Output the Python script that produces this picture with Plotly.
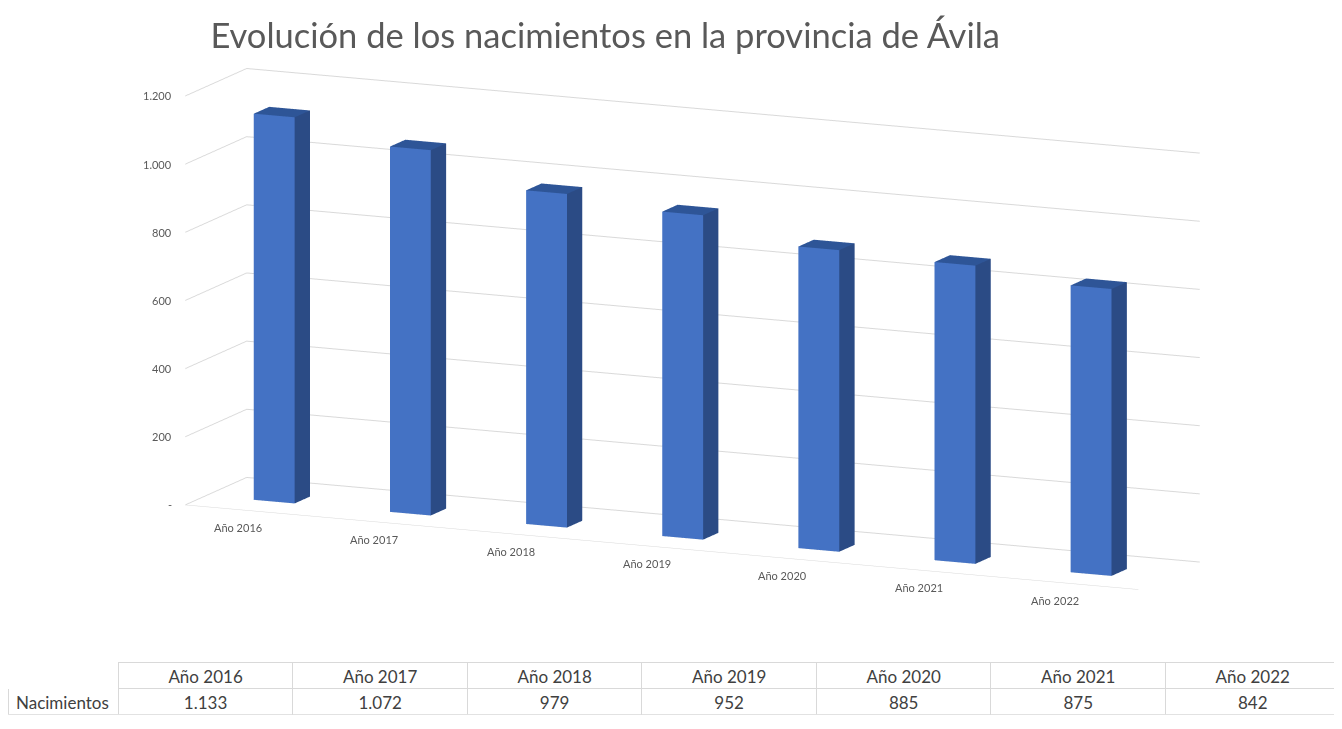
import plotly.graph_objects as go

years = ["Año 2016", "Año 2017", "Año 2018", "Año 2019", "Año 2020", "Año 2021", "Año 2022"]
births = [1133, 1072, 979, 952, 885, 875, 842]
births_text = ["1.133", "1.072", "979", "952", "885", "875", "842"]
z_ticks = [0, 200, 400, 600, 800, 1000, 1200]
z_tick_labels = ["-", "200", "400", "600", "800", "1.000", "1.200"]

BAR_HALF = 0.15
DEPTH = (0.34, 0.59)
FRONT = "#4472C4"
SIDE = "#2B4B85"
TOP = "#2E5597"
X_RANGE = [-0.5, 6.5]

xs, ys, zs, I, J, K, fc = [], [], [], [], [], [], []
for idx, v in enumerate(births):
    x0, x1 = idx - BAR_HALF, idx + BAR_HALF
    y0, y1 = DEPTH
    b = len(xs)
    corners = [(x0, y0, 0), (x1, y0, 0), (x1, y1, 0), (x0, y1, 0),
               (x0, y0, v), (x1, y0, v), (x1, y1, v), (x0, y1, v)]
    for cx, cy, cz in corners:
        xs.append(cx); ys.append(cy); zs.append(cz)
    faces = [((0, 1, 5), FRONT), ((0, 5, 4), FRONT),
             ((1, 2, 6), SIDE), ((1, 6, 5), SIDE),
             ((4, 5, 6), TOP), ((4, 6, 7), TOP),
             ((2, 3, 7), SIDE), ((2, 7, 6), SIDE),
             ((3, 0, 4), FRONT), ((3, 4, 7), FRONT),
             ((0, 1, 2), TOP), ((0, 2, 3), TOP)]
    for (a, c, d), col in faces:
        I.append(b + a); J.append(b + c); K.append(b + d); fc.append(col)

fig = go.Figure()
fig.add_trace(go.Mesh3d(
    x=xs, y=ys, z=zs, i=I, j=J, k=K, facecolor=fc, flatshading=True,
    lighting=dict(ambient=1.0, diffuse=0.0, specular=0.0, roughness=1.0, fresnel=0.0),
    hoverinfo="skip", showscale=False,
))

font_family = "Lato, 'Open Sans', sans-serif"
tick_font = dict(family=font_family, size=11, color="#595959")

fig.add_trace(go.Table(
    domain=dict(x=[0.0, 0.993], y=[0.03, 0.102]),
    columnwidth=[110] + [174] * 7,
    header=dict(values=[""] + years, align="center",
                line=dict(color=["white"] + ["#D9D9D9"] * 7, width=1),
                fill=dict(color="white"),
                font=dict(family=font_family, size=17, color="#404040"), height=26),
    cells=dict(values=[["Nacimientos"]] + [[t] for t in births_text],
               align=["left"] + ["center"] * 7,
               line=dict(color="#D9D9D9", width=1),
               fill=dict(color="white"),
               font=dict(family=font_family, size=17, color="#404040"), height=26),
))

scene_annotations = []
for idx, label in enumerate(years):
    scene_annotations.append(dict(x=idx, y=0, z=0, text=label, showarrow=False,
                                  xanchor="center", yanchor="middle",
                                  xshift=-15, yshift=-17, font=tick_font))
for val, label in zip(z_ticks, z_tick_labels):
    scene_annotations.append(dict(x=X_RANGE[0], y=0, z=val, text=label, showarrow=False,
                                  xanchor="right", yanchor="middle",
                                  xshift=-11, font=tick_font))

axis_common = dict(showbackground=False, showspikes=False, zeroline=False,
                   title=dict(text=""), ticks="", showticklabels=False)

fig.update_layout(
    width=1342, height=729,
    margin=dict(l=0, r=0, t=0, b=0),
    paper_bgcolor="white",
    font=dict(family=font_family, color="#595959"),
    title=dict(text="Evolución de los nacimientos en la provincia de Ávila",
               x=0.445, xanchor="center", y=0.962, yanchor="middle",
               font=dict(family=font_family, size=34.5, color="#595959")),
    scene=dict(
        domain=dict(x=[0.02, 1.0], y=[0.12, 1.0]),
        xaxis=dict(range=X_RANGE, tickvals=list(range(7)),
                   showgrid=False, showline=True, linecolor="#D9D9D9", **axis_common),
        yaxis=dict(range=[0, 1], showgrid=False, showline=False, **axis_common),
        zaxis=dict(range=[0, 1200], tickvals=z_ticks,
                   showgrid=True, gridcolor="#D9D9D9", showline=False, **axis_common),
        aspectmode="manual", aspectratio=dict(x=3.25, y=0.47, z=1.30),
        camera=dict(eye=dict(x=1.176, y=-2.641, z=0.588), center=dict(x=0, y=0, z=0),
                    up=dict(x=0, y=0, z=1), projection=dict(type="orthographic")),
        annotations=scene_annotations,
        dragmode=False,
    ),
    showlegend=False,
)

fig.write_html("out.html")
